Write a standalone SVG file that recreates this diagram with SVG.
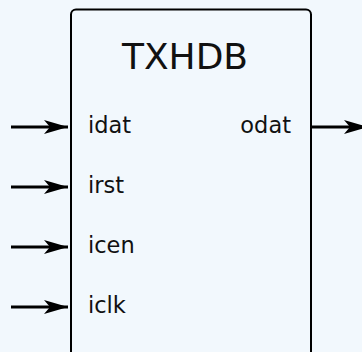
<svg xmlns="http://www.w3.org/2000/svg" width="362" height="352" viewBox="0 0 362 352">
<style>
.bg{fill:#f2f8fd}
.box{fill:#f2f8fd;stroke:#000;stroke-width:2}
.t{font-family:"DejaVu Sans",Verdana,sans-serif;fill:#111}
.title{font-size:36px;text-anchor:middle}
.port{font-size:22.5px}
.wire{stroke:#000;stroke-width:3;fill:none}
</style>
<defs>
<marker id="ah" markerUnits="userSpaceOnUse" markerWidth="26" markerHeight="16" refX="24" refY="7" orient="auto" viewBox="0 0 26 14">
<path d="M24,7 L0,0 L6,7 L0,14 Z" fill="#000"/>
</marker>
</defs>
<rect class="bg" x="0" y="0" width="362" height="352"/>
<g id="TXHDB">
<rect class="box" x="71" y="9.5" width="240" height="360" rx="5"/>
<text class="t title" x="185" y="69">TXHDB</text>
<text class="t port" x="88" y="133">idat</text>
<text class="t port" x="88" y="193">irst</text>
<text class="t port" x="88" y="253">icen</text>
<text class="t port" x="88" y="313">iclk</text>
<text class="t port" x="291" y="133" text-anchor="end">odat</text>
</g>
<g id="connectors">
<line class="wire" x1="11" y1="127" x2="68" y2="127" marker-end="url(#ah)"/>
<line class="wire" x1="11" y1="187" x2="68" y2="187" marker-end="url(#ah)"/>
<line class="wire" x1="11" y1="247" x2="68" y2="247" marker-end="url(#ah)"/>
<line class="wire" x1="11" y1="307" x2="68" y2="307" marker-end="url(#ah)"/>
<line class="wire" x1="312" y1="127" x2="368" y2="127" marker-end="url(#ah)"/>
</g>
</svg>
